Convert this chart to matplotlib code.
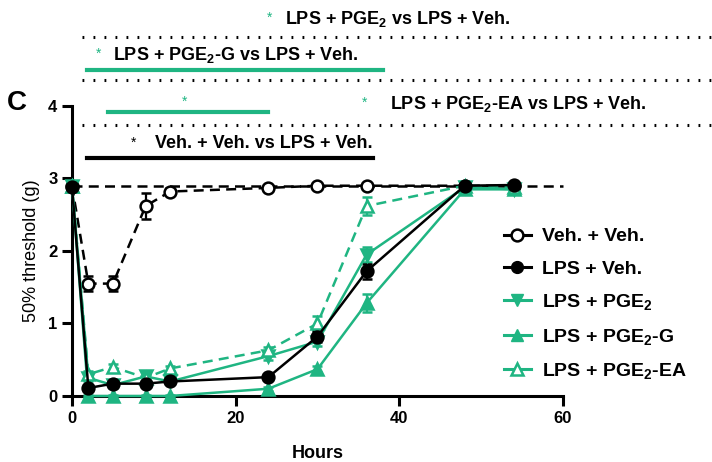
import numpy as np
import matplotlib
matplotlib.use("Agg")
import matplotlib.pyplot as plt
from matplotlib.lines import Line2D

plt.rcParams['font.family'] = ['Liberation Sans', 'DejaVu Sans']
plt.rcParams['mathtext.fontset'] = 'custom'
plt.rcParams['mathtext.rm'] = 'Liberation Sans:bold'
plt.rcParams['mathtext.default'] = 'rm'

# data
hours = [0, 2, 5, 9, 12, 24, 30, 36, 48, 54]
veh_veh = [2.90, 1.55, 1.55, 2.62, 2.82, 2.87, 2.90, 2.90, 2.90, 2.90]
veh_veh_err = [0.05, 0.10, 0.10, 0.18, 0.05, 0.04, 0.03, 0.03, 0.03, 0.03]
lps_veh = [2.88, 0.11, 0.17, 0.17, 0.20, 0.26, 0.82, 1.72, 2.90, 2.91]
lps_veh_err = [0.05, 0.03, 0.03, 0.03, 0.03, 0.04, 0.08, 0.10, 0.03, 0.03]
lps_pge2 = [2.90, 0.25, 0.15, 0.27, 0.20, 0.55, 0.75, 1.95, 2.88, 2.85]
lps_pge2_err = [0.05, 0.04, 0.04, 0.04, 0.04, 0.05, 0.06, 0.10, 0.03, 0.03]
lps_pge2g = [2.90, 0.00, 0.00, 0.00, 0.00, 0.10, 0.37, 1.28, 2.85, 2.85]
lps_pge2g_err = [0.05, 0.02, 0.02, 0.02, 0.02, 0.03, 0.04, 0.12, 0.03, 0.03]
lps_pge2ea = [2.90, 0.30, 0.40, 0.25, 0.38, 0.63, 1.00, 2.62, 2.90, 2.88]
lps_pge2ea_err = [0.05, 0.04, 0.04, 0.04, 0.04, 0.05, 0.10, 0.13, 0.03, 0.03]
baseline = 2.9

green = '#1fb582'
black = 'black'

fig = plt.figure(figsize=(7.12, 4.62), dpi=100)
ax = fig.add_axes([0.1011, 0.1429, 0.6896, 0.6277])

ax.hlines(baseline, 0, 60, colors=black, linestyles=(0, (4, 2.5)), lw=1.8, zorder=1, clip_on=False)

series = [
    (veh_veh, veh_veh_err, 'Veh. + Veh.', black, 'o', 'white', (0, (4, 2.5))),
    (lps_pge2g, lps_pge2g_err, 'LPS + PGE$_2$-G', green, '^', green, '-'),
    (lps_pge2, lps_pge2_err, 'LPS + PGE$_2$', green, 'v', green, '-'),
    (lps_pge2ea, lps_pge2ea_err, 'LPS + PGE$_2$-EA', green, '^', 'white', (0, (4, 2.5))),
    (lps_veh, lps_veh_err, 'LPS + Veh.', black, 'o', black, '-'),
]
for y, e, lab, c, m, fc, ls in series:
    eb = ax.errorbar(hours, y, yerr=e, color=c, marker=m, mfc=fc, mec=c, mew=1.8,
                     ms=8.5, lw=1.8, ls=ls, capsize=3.5, elinewidth=1.6, capthick=1.6,
                     clip_on=False, zorder=3)
    for a in eb.lines[1]:
        a.set_clip_on(False)
    for a in eb.lines[2]:
        a.set_clip_on(False)

ax.set_xlim(0, 60)
ax.set_ylim(0, 4)
ax.set_xticks([0, 20, 40, 60])
ax.set_yticks([0, 1, 2, 3, 4])
for s in ['top', 'right']:
    ax.spines[s].set_visible(False)
for s in ['left', 'bottom']:
    ax.spines[s].set_linewidth(2.2)
ax.tick_params(width=2.2, length=7, labelsize=12)
for lbl in ax.get_xticklabels() + ax.get_yticklabels():
    lbl.set_fontweight('bold')
ax.set_xlabel('Hours', fontsize=13, fontweight='bold', labelpad=14)
ax.set_ylabel('50% threshold (g)', fontsize=13, labelpad=6)

# legend
handles = [
    Line2D([], [], color=black, marker='o', mfc='white', mec=black, mew=1.8, ms=8.5, lw=2.2),
    Line2D([], [], color=black, marker='o', mfc=black, mec=black, ms=8.5, lw=2.2),
    Line2D([], [], color=green, marker='v', mfc=green, mec=green, ms=8.5, lw=2.2),
    Line2D([], [], color=green, marker='^', mfc=green, mec=green, ms=8.5, lw=2.2),
    Line2D([], [], color=green, marker='^', mfc='white', mec=green, mew=1.8, ms=8.5, lw=2.2),
]
labels = ['Veh. + Veh.', 'LPS + Veh.', 'LPS + PGE$_2$', 'LPS + PGE$_2$-G', 'LPS + PGE$_2$-EA']
fig.legend(handles, labels, loc='upper left', bbox_to_anchor=(0.683, 0.515 + 0.03),
           frameon=False, handlelength=1.4, handletextpad=0.55, labelspacing=0.75,
           prop={'weight': 'bold', 'size': 14})

# significance annotations above the plot
kw = dict(clip_on=False)
dots = (0, (0.6, 3.0))
for yy in [4.95, 4.36, 3.74]:
    ax.plot([1.2, 78.2], [yy, yy], color=black, lw=2.2, ls=dots, **kw)
ax.plot([1.8, 38.0], [4.50, 4.50], color=green, lw=3, **kw)
ax.plot([4.4, 24.0], [3.92, 3.92], color=green, lw=3, **kw)
ax.plot([1.8, 36.8], [3.28, 3.28], color=black, lw=3, **kw)

tk = dict(fontsize=13, fontweight='bold', va='center', ha='left')
ax.text(24.1, 5.22, '*', color=green, fontsize=10, ha='center', va='center')
ax.text(26.0, 5.20, 'LPS + PGE$_2$ vs LPS + Veh.', **tk)
ax.text(3.2, 4.72, '*', color=green, fontsize=10, ha='center', va='center')
ax.text(5.0, 4.70, 'LPS + PGE$_2$-G vs LPS + Veh.', **tk)
ax.text(13.8, 4.06, '*', color=green, fontsize=10, ha='center', va='center')
ax.text(35.8, 4.04, '*', color=green, fontsize=10, ha='center', va='center')
ax.text(38.9, 4.03, 'LPS + PGE$_2$-EA vs LPS + Veh.', **tk)
ax.text(7.5, 3.49, '*', color=black, fontsize=10, ha='center', va='center')
ax.text(10.1, 3.48, 'Veh. + Veh. vs LPS + Veh.', **tk)

fig.text(17 / 712, 1 - 103 / 462, 'C', fontsize=20, fontweight='bold', ha='center', va='center')

fig.savefig('out.png', dpi=100)
